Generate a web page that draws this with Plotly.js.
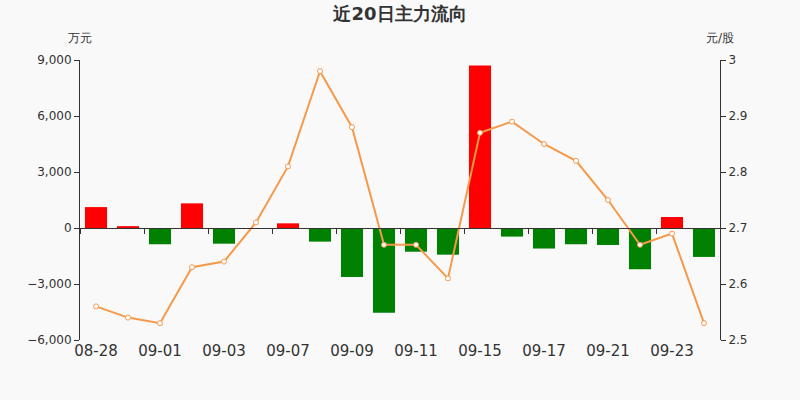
<!DOCTYPE html>
<html>
<head>
<meta charset="utf-8">
<script src="https://cdn.plot.ly/plotly-3.0.1.min.js"></script>
<style>
  html, body { margin: 0; padding: 0; background: #f9f9f9; }
  #chart { width: 800px; height: 400px; }
</style>
</head>
<body>
<div id="chart"></div>
<script>
// dates of the last 20 trading days
var dates = [ '08-28', '08-31', '09-01', '09-02', '09-03', '09-04', '09-07', '09-08', '09-09', '09-10',
              '09-11', '09-14', '09-15', '09-16', '09-17', '09-18', '09-21', '09-22', '09-23', '09-24' ];

// main fund flow, 万元
var flow = [ 1120, 100, -870, 1320, -840, -30, 250, -730, -2620, -4540,
             -1270, -1430, 8700, -460, -1100, -870, -910, -2210, 590, -1550 ];

// closing price, 元/股
var price = [ 2.56, 2.54, 2.53, 2.63, 2.64, 2.71, 2.81, 2.98, 2.88, 2.67,
              2.67, 2.61, 2.87, 2.89, 2.85, 2.82, 2.75, 2.67, 2.69, 2.53 ];

var barColors = flow.map( function ( v ) { return v >= 0 ? '#ff0000' : '#008000'; } );

var bars = {
    x: dates,
    y: flow,
    type: 'bar',
    marker: { color: barColors },
    hoverinfo: 'x+y',
    xaxis: 'x',
    yaxis: 'y'
};

var line = {
    x: dates,
    y: price,
    type: 'scatter',
    mode: 'lines+markers',
    line: { color: '#f5994a', width: 2 },
    marker: { size: 5, color: '#ffffff', line: { color: '#f5994a', width: 1 } },
    xaxis: 'x2',
    yaxis: 'y2'
};

var axisFont = { family: 'DejaVu Sans', size: 12, color: '#333' };

var layout = {
    width: 800,
    height: 400,
    margin: { l: 80, r: 80, t: 60, b: 60 },
    paper_bgcolor: '#f9f9f9',
    plot_bgcolor: '#f9f9f9',
    showlegend: false,
    bargap: 0.31,
    font: { family: 'DejaVu Sans', color: '#333' },
    title: {
        text: '<b>近20日主力流向</b>',
        font: { family: 'DejaVu Sans', size: 18, color: '#333' },
        x: 0.5, xanchor: 'center', y: 0.965, yanchor: 'middle'
    },
    xaxis: {
        type: 'category',
        range: [ -0.5, 19.5 ],
        tickmode: 'linear', tick0: 0, dtick: 2,
        showline: false, showgrid: false, zeroline: false,
        ticks: '',
        tickfont: { family: 'DejaVu Sans', size: 15, color: '#333' }
    },
    // axis line with tick marks sitting on the zero level
    xaxis2: {
        type: 'category',
        overlaying: 'x',
        anchor: 'free',
        position: 0.4,
        range: [ -0.5, 19.5 ],
        tickmode: 'linear', tick0: 0, dtick: 2,
        tickson: 'boundaries',
        showline: true, linecolor: '#333', linewidth: 1,
        ticks: 'outside', ticklen: 5, tickcolor: '#333',
        showticklabels: false, showgrid: false, zeroline: false
    },
    yaxis: {
        range: [ -6000, 9000 ],
        dtick: 3000,
        tickformat: ',d',
        showline: true, linecolor: '#333', linewidth: 1,
        ticks: 'outside', ticklen: 5, tickcolor: '#333',
        showgrid: false, zeroline: false,
        tickfont: axisFont
    },
    yaxis2: {
        overlaying: 'y',
        side: 'right',
        anchor: 'x',
        range: [ 2.5, 3 ],
        dtick: 0.1,
        showline: true, linecolor: '#333', linewidth: 1,
        ticks: 'outside', ticklen: 5, tickcolor: '#333',
        showgrid: false, zeroline: false,
        tickfont: axisFont
    },
    annotations: [
        { text: '万元', xref: 'paper', yref: 'paper', x: 0, y: 1, yshift: 22,
          xanchor: 'center', yanchor: 'middle', showarrow: false,
          font: { family: 'DejaVu Sans', size: 12, color: '#333' } },
        { text: '元/股', xref: 'paper', yref: 'paper', x: 1, y: 1, yshift: 22,
          xanchor: 'center', yanchor: 'middle', showarrow: false,
          font: { family: 'DejaVu Sans', size: 12, color: '#333' } }
    ]
};

Plotly.newPlot( 'chart', [ bars, line ], layout, { displayModeBar: false, staticPlot: true } );
</script>
</body>
</html>
